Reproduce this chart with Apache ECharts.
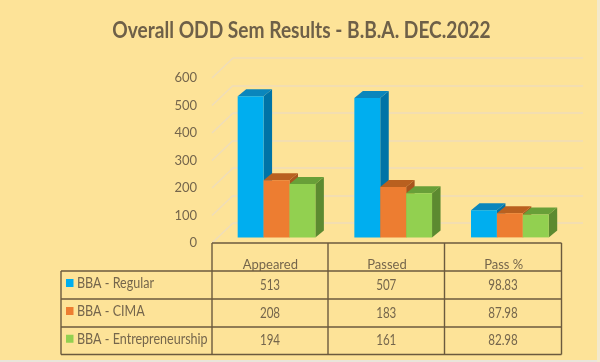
<!DOCTYPE html>
<html><head><meta charset="utf-8">
<style>html,body{margin:0;padding:0;background:#FDE398}#c{width:600px;height:362px}</style>
<script src="https://cdn.jsdelivr.net/npm/echarts@6/dist/echarts.min.js"></script>
</head><body><div id="c"></div>
<script>
const chartTitle = 'Overall ODD Sem Results - B.B.A. DEC.2022';
const categories = ['Appeared', 'Passed', 'Pass %'];
const seriesNames = ['BBA - Regular', 'BBA - CIMA', 'BBA - Entrepreneurship'];
const regular = [513, 507, 98.83];
const cima = [208, 183, 87.98];
const entrepreneurship = [194, 161, 82.98];
const yTicks = [0, 100, 200, 300, 400, 500, 600];

const frontColors = ['#00AEEF', '#ED7D31', '#92D050'];
const sideColors = ['#0073A6', '#A8551D', '#5C8A30'];
const topColors = ['#0A86BC', '#B9601F', '#689F38'];
const textColor = '#75664C';
const font = 'Lato';
const lineColor = '#6B5A3E';
const wallColor = '#EFDDB9';

const G = {left: 212, top: 78, width: 350, height: 165};
const D = {x: 21, y: 20};

function barSeries(idx, name, values) {
  return {
    type: 'custom', name, xAxisIndex: 0, yAxisIndex: 0, z: 5 + idx,
    data: values.map((v, i) => [i, v]),
    renderItem(params, api) {
      const c = api.coord([api.value(0), api.value(1)]);
      const z = api.coord([api.value(0), 0]);
      const band = api.size([1, 0])[0];
      const w = band * 0.222;
      const off = 5.6, dx = 8.5, dy = 7;
      const x0 = c[0] + 6.2 + (idx - 1.5) * w;
      const x1 = x0 + w;
      const yt = c[1] - off, yb = z[1] - off;
      const poly = (pts, fill) => ({type: 'polygon', shape: {points: pts}, style: {fill}});
      return {type: 'group', children: [
        poly([[x1, yt], [x1 + dx, yt - dy], [x1 + dx, yb - dy], [x1, yb]], sideColors[idx]),
        poly([[x0, yt], [x0 + dx, yt - dy], [x1 + dx, yt - dy], [x1, yt]], topColors[idx]),
        {type: 'rect', shape: {x: x0, y: yt, width: w, height: yb - yt}, style: {fill: frontColors[idx]}}
      ]};
    }
  };
}

const wallSeries = {
  type: 'custom', xAxisIndex: 0, yAxisIndex: 0, z: 1, silent: true,
  data: yTicks.map(t => [0, t]),
  renderItem(params, api) {
    const c = api.coord([0, api.value(1)]);
    const x = params.coordSys.x;
    return {type: 'line', shape: {x1: x, y1: c[1], x2: x + D.x, y2: c[1] - D.y},
      style: {stroke: wallColor, lineWidth: 1.5}};
  }
};

const rowY = [271, 299, 327, 354.5];
const colX = [61, 212, 328, 444.5, 561.5];
const graphics = [];
const ln = (x1, y1, x2, y2) => graphics.push({type: 'line', z: 20,
  shape: {x1, y1, x2, y2}, style: {stroke: lineColor, lineWidth: 1.4}});
ln(colX[1], 243, colX[4], 243);
rowY.forEach(y => ln(colX[0], y, colX[4], y));
ln(colX[0], rowY[0], colX[0], rowY[3]);
colX.slice(1).forEach(x => ln(x, 243, x, rowY[3]));
[regular, cima, entrepreneurship].forEach((vals, r) => {
  const cy = (rowY[r] + rowY[r + 1]) / 2;
  graphics.push({type: 'rect', z: 20, shape: {x: 66, y: cy - 6, width: 7.5, height: 8},
    style: {fill: frontColors[r]}});
  graphics.push({type: 'text', z: 20, x: 77, y: cy - 1.5, scaleX: 0.865,
    style: {text: seriesNames[r], fill: textColor, font: '14.5px ' + font, textVerticalAlign: 'middle'}});
  vals.forEach((v, c) => graphics.push({type: 'text', z: 20, scaleX: 0.8,
    x: (colX[c + 1] + colX[c + 2]) / 2, y: cy,
    style: {text: c === 2 ? v.toFixed(2) : String(v), fill: textColor, font: '14.5px ' + font,
      textAlign: 'center', textVerticalAlign: 'middle'}}));
});
graphics.push({type: 'text', z: 20, x: 301.5, y: 31, scaleX: 0.87,
  style: {text: chartTitle, fill: '#6E6048', font: 'bold 22px ' + font,
    textAlign: 'center', textVerticalAlign: 'middle'}});
graphics.push({type: 'rect', z: 0, shape: {x: 0, y: 360, width: 600, height: 2}, style: {fill: '#E9E5DA'}});
graphics.push({type: 'rect', z: 0, shape: {x: 597, y: 0, width: 3, height: 362}, style: {fill: '#F3E9CC'}});

const chart = echarts.init(document.getElementById('c'), null, {renderer: 'canvas'});
chart.setOption({
  animation: false,
  backgroundColor: '#FDE398',
  grid: [
    {left: G.left, top: G.top, width: G.width, height: G.height},
    {left: G.left + D.x, top: G.top - D.y, width: G.width, height: G.height}
  ],
  xAxis: [
    {type: 'category', gridIndex: 0, data: categories, axisLine: {show: false}, axisTick: {show: false},
      axisLabel: {color: textColor, fontFamily: font, fontSize: 13, margin: 15}},
    {type: 'category', gridIndex: 1, data: categories, show: false}
  ],
  yAxis: [
    {type: 'value', gridIndex: 0, min: 0, max: 600, interval: 100, axisLine: {show: false}, axisTick: {show: false},
      splitLine: {show: false},
      axisLabel: {color: textColor, fontFamily: font, fontSize: 13, margin: 15, padding: [8, 0, 0, 0]}},
    {type: 'value', gridIndex: 1, min: 0, max: 600, interval: 100, axisLine: {show: false}, axisTick: {show: false},
      axisLabel: {show: false}, splitLine: {show: true, lineStyle: {color: wallColor, width: 1.5}}}
  ],
  series: [
    wallSeries,
    barSeries(0, seriesNames[0], regular),
    barSeries(1, seriesNames[1], cima),
    barSeries(2, seriesNames[2], entrepreneurship)
  ],
  graphic: graphics
});
</script></body></html>
